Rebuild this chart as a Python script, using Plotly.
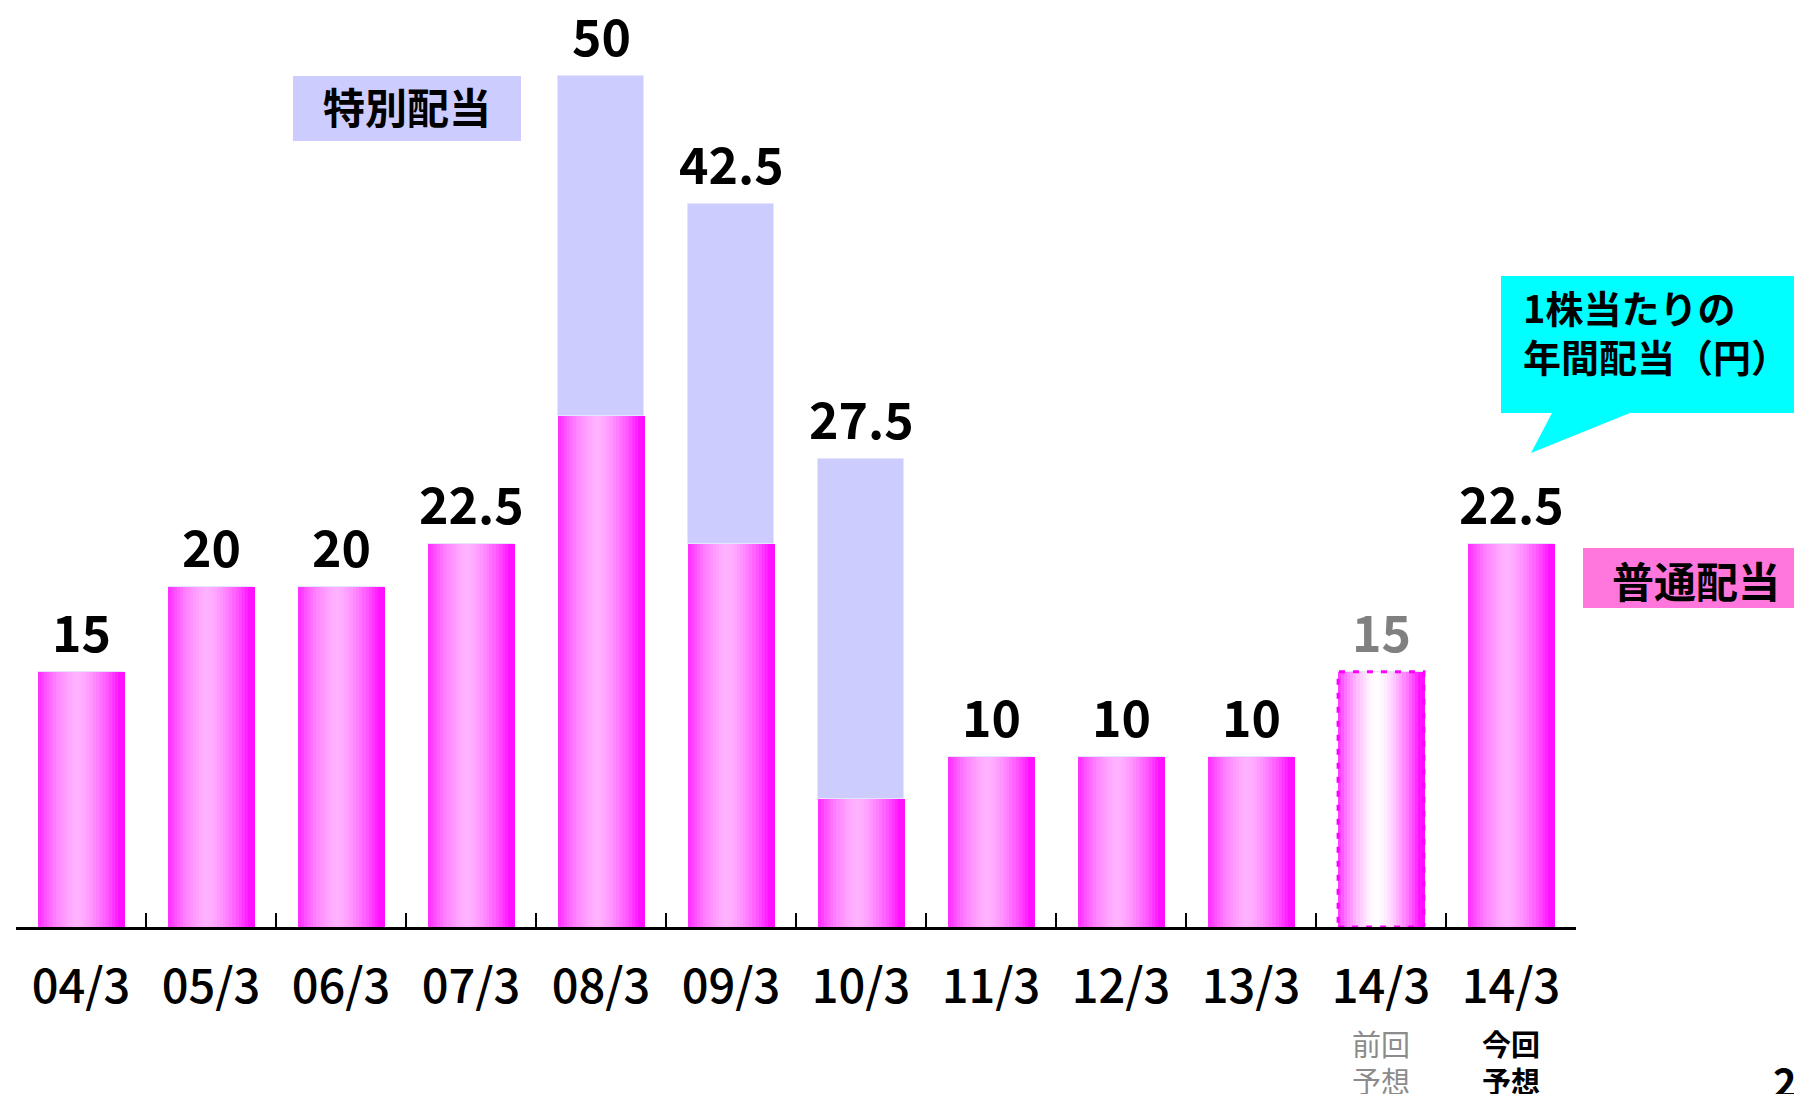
import plotly.graph_objects as go

# Fiscal year-ends (yy/m) and annual dividend per share (yen)
categories = ["04/3", "05/3", "06/3", "07/3", "08/3", "09/3", "10/3",
              "11/3", "12/3", "13/3", "14/3 前回", "14/3 今回"]
tick_labels = ["04/3", "05/3", "06/3", "07/3", "08/3", "09/3", "10/3",
               "11/3", "12/3", "13/3", "14/3", "14/3"]
ordinary = [15, 20, 20, 22.5, 30, 22.5, 7.5, 10, 10, 10, 15, 22.5]
special = [0, 0, 0, 0, 20, 20, 20, 0, 0, 0, 0, 0]
previous_forecast = [False] * 10 + [True, False]
forecast_notes = {10: ("前回", "予想"), 11: ("今回", "予想")}

W, H = 1794, 1094
ML, MR, MT, MB = 16, 218, 8, 167
PW, PH = W - ML - MR, H - MT - MB
BAR_W = 0.66
N_SLICES = 28

FONT = "Noto Sans CJK JP"


def px(x):
    return (x - ML) / PW


def py(y):
    return (H - MB - y) / PH


def mix(c1, c2, t):
    return "rgb({},{},{})".format(*[round(a + (b - a) * t) for a, b in zip(c1, c2)])


EDGE = (255, 16, 255)
LIGHT = (255, 178, 255)
WHITE = (255, 255, 255)

fig = go.Figure()

# Ordinary dividend: each bar is built from thin vertical slices to give a cylinder-like shading
for i in range(N_SLICES):
    u = (i + 0.5) / N_SLICES
    d = abs(u - 0.45) / 0.5
    t = max(0.0, 1 - d ** 1.6)
    colors = [mix(EDGE, WHITE if prev else LIGHT, t) for prev in previous_forecast]
    fig.add_trace(go.Bar(
        x=categories, y=ordinary,
        offset=-BAR_W / 2 + i * BAR_W / N_SLICES,
        width=BAR_W / N_SLICES * 1.3,
        marker=dict(color=colors, line=dict(width=0)),
        showlegend=False, hoverinfo="skip",
    ))

# Special dividend stacked on top of the ordinary part
fig.add_trace(go.Bar(
    x=categories, y=special, base=ordinary,
    offset=-BAR_W / 2, width=BAR_W,
    marker=dict(color="#CCCCFF", line=dict(color="#E4E4FF", width=1)),
    showlegend=False, hoverinfo="skip",
))

shapes = []
annotations = []

# Dotted outline around the previous-forecast bar
for idx, prev in enumerate(previous_forecast):
    if prev:
        shapes.append(dict(
            type="rect", xref="x", yref="y",
            x0=idx - BAR_W / 2, x1=idx + BAR_W / 2, y0=0, y1=ordinary[idx],
            line=dict(color="#FF00FF", width=3, dash="6px,8px"),
            fillcolor="rgba(0,0,0,0)", layer="above",
        ))

# Total value labels above each bar
for cat, o, s, prev in zip(categories, ordinary, special, previous_forecast):
    total = o + s
    annotations.append(dict(
        x=cat, y=total, xref="x", yref="y", xanchor="center", yanchor="bottom",
        text=f"{total:g}", showarrow=False, yshift=4,
        font=dict(family=FONT, size=50, weight="bold",
                  color="#808080" if prev else "#000000"),
    ))

# Forecast notes under the two 14/3 columns (one line each)
for idx, lines in forecast_notes.items():
    prev = previous_forecast[idx]
    for line, y_px in zip(lines, (1043, 1080)):
        annotations.append(dict(
            x=categories[idx], y=py(y_px), xref="x", yref="paper",
            xanchor="center", yanchor="middle",
            text=line, showarrow=False,
            font=dict(family=FONT, size=29,
                      weight="normal" if prev else "bold",
                      color="#8C8C8C" if prev else "#000000"),
        ))

# Key boxes
shapes.append(dict(type="rect", xref="paper", yref="paper",
                   x0=px(293), x1=px(521), y0=py(141), y1=py(76),
                   fillcolor="#CCCCFF", line=dict(width=0), layer="below"))
annotations.append(dict(x=px(407), y=py(106), xref="paper", yref="paper",
                        xanchor="center", yanchor="middle",
                        text="特別配当", showarrow=False,
                        font=dict(family=FONT, size=42, weight="bold", color="#000000")))

shapes.append(dict(type="rect", xref="paper", yref="paper",
                   x0=px(1583), x1=px(1800), y0=py(608), y1=py(548),
                   fillcolor="#FF77DD", line=dict(width=0), layer="below"))
annotations.append(dict(x=px(1696), y=py(579), xref="paper", yref="paper",
                        xanchor="center", yanchor="middle",
                        text="普通配当", showarrow=False,
                        font=dict(family=FONT, size=42, weight="bold", color="#000000")))

# Speech-bubble caption
bubble = [(1501, 276), (1800, 276), (1800, 413), (1630, 413),
          (1531, 453), (1552, 413), (1501, 413)]
path = "M " + " L ".join(f"{px(x):.5f},{py(y):.5f}" for x, y in bubble) + " Z"
shapes.append(dict(type="path", xref="paper", yref="paper", path=path,
                   fillcolor="#00FFFF", line=dict(width=0), layer="below"))
annotations.append(dict(x=px(1521), y=py(331), xref="paper", yref="paper",
                        xanchor="left", yanchor="middle", align="left",
                        text="1株当たりの<br>年間配当（円）", showarrow=False,
                        font=dict(family=FONT, size=38, weight="bold", color="#000000")))

# Page number
annotations.append(dict(x=px(1771), y=py(1050), xref="paper", yref="paper",
                        xanchor="left", yanchor="top", text="2", showarrow=False,
                        font=dict(family=FONT, size=40, weight="bold", color="#000000")))

fig.update_layout(
    width=W, height=H,
    margin=dict(l=ML, r=MR, t=MT, b=MB),
    paper_bgcolor="white", plot_bgcolor="white",
    barmode="overlay", bargap=0,
    shapes=shapes, annotations=annotations,
    xaxis=dict(
        type="category", categoryorder="array", categoryarray=categories,
        tickmode="array", tickvals=categories, ticktext=tick_labels,
        tickson="boundaries", ticks="inside", ticklen=14, tickwidth=2, tickcolor="#000000",
        showline=True, linecolor="#000000", linewidth=3,
        showgrid=False, zeroline=False,
        tickfont=dict(family=FONT, size=47, weight=500, color="#000000"),
        ticklabelstandoff=17,
        range=[-0.5, len(categories) - 0.5],
    ),
    yaxis=dict(range=[0, 54], visible=False, showgrid=False, zeroline=False),
)

fig.write_html("out.html")
